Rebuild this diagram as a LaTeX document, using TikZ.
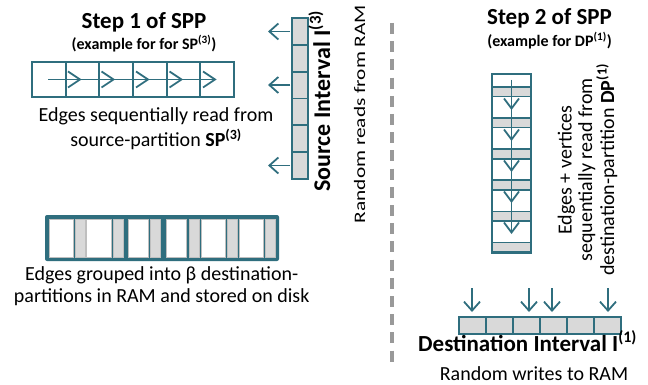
\documentclass[tikz,border=0pt]{standalone}
\usepackage{fontspec}
\usepackage{graphicx}
\setmainfont{Carlito}
\usetikzlibrary{arrows.meta}
\definecolor{teal1}{HTML}{2F6E7E}
\definecolor{cellgray}{HTML}{D9D9D9}
\definecolor{dashgray}{HTML}{999999}
\definecolor{edgegray}{HTML}{BFBFBF}
\begin{document}
\begin{tikzpicture}[x=1pt,y=-1pt,
  cell/.style={draw=teal1, line width=1.8pt},
  arr/.style={draw=teal1, line width=1.8pt, -{Straight Barb[length=9pt,width=16pt,line width=1.8pt]}},
  chev/.style={draw=teal1, line width=1.8pt},
  txt/.style={inner sep=0pt, font=\fontsize{20}{25}\selectfont},
  ttl/.style={inner sep=0pt, font=\bfseries\fontsize{23}{28}\selectfont},
  sub/.style={inner sep=0pt, font=\bfseries\fontsize{16}{19}\selectfont},
  big/.style={inner sep=0pt, font=\bfseries\fontsize{24}{28}\selectfont},
  blk/.style={draw=edgegray, line width=0.5pt},
]
\useasboundingbox (0,0) rectangle (648,385);
\fill[white] (0,0) rectangle (648,385);

% ---------- Step 1 ----------
\node[ttl, anchor=base] (t1) at (144,29) {Step 1 of SPP};
\node[sub, anchor=base] (s1) at (144,50) {(example for for SP\textsuperscript{(3)})};

\foreach \i in {0,...,5}
  \draw[cell, fill=white] ({32+33.67*\i},62) rectangle ({32+33.67*(\i+1)},97);
\draw[chev] (48,79.5) -- (215,79.5);
\foreach \x in {80,113.5,148,181.5,215}
  \draw[chev] (\x-12,71.5) -- (\x,79.5) -- (\x-12,87.5);

\node[txt, align=center] (e1) at (156,129)
  {Edges sequentially read from\\source-partition \textbf{SP\textsuperscript{(3)}}};

% source interval
\foreach \i in {0,...,5}
  \draw[cell, fill=cellgray] (292,{18+26.83*\i}) rectangle (308,{18+26.83*(\i+1)});
\foreach \y in {31.5,85,165.5}
  \draw[arr] (290,\y) -- (268,\y);

\node[big, anchor=base, rotate=90] (si) at (330,101) {Source Interval I\textsuperscript{(3)}};
\node[inner sep=0pt, anchor=base, rotate=90, font=\fontsize{16}{20}\selectfont] (rr) at (365,114)
  {\scalebox{1.33}[1]{Random reads from RAM}};

% grouped partitions box
\fill[teal1, rounded corners=2pt] (45,215) rectangle (279,261);
\foreach \a/\b in {49.3/73.3,86.7/111.7,128.3/148.3,166.7/186.7,201/225,239/263.3}
  \draw[blk, fill=white] (\a,219) rectangle (\b,257);
\foreach \a/\b in {75/85,113.3/123.3,150.7/160.7,189/199,227.3/237.3,265.3/275}
  \draw[blk, fill=cellgray] (\a,219) rectangle (\b,257);

\node[inner sep=0pt, font=\fontsize{20}{21.7}\selectfont, align=center] (e3) at (161.7,286)
  {Edges grouped into β destination-\\partitions in RAM and stored on disk};

% ---------- divider ----------
\draw[dashgray, line width=3.5pt, dash pattern=on 11pt off 7.2pt] (392,23) -- (392,362);

% ---------- Step 2 ----------
\node[ttl, anchor=base] (t2) at (549.5,25) {Step 2 of SPP};
\node[sub, anchor=base] (s2) at (549.5,47) {(example for DP\textsuperscript{(1)})};

\draw[cell, fill=white] (492,74) rectangle (531,253);
\foreach \i in {0,...,5}
  \draw[cell, fill=cellgray] (492,{87+31.1*\i}) rectangle (531,{96.5+31.1*\i});
\draw[chev] (511.5,80) -- (511.5,232.5);
\foreach \y in {108.5,139.5,170.5,201.5,232.5}
  \draw[chev] (504,\y-10) -- (511.5,\y) -- (519,\y-10);

\node[inner sep=0pt, font=\fontsize{20}{20.5}\selectfont, align=center, rotate=90] (e2) at (587.5,170)
  {Edges + vertices\\sequentially read from\\destination-partition \textbf{DP\textsuperscript{(1)}}};

\foreach \x in {472,529,552,608}
  \draw[arr] (\x,288) -- (\x,312);
\foreach \i in {0,...,5}
  \draw[cell, fill=cellgray] ({459+27*\i},317) rectangle ({459+27*(\i+1)},334);

\node[inner sep=0pt, font=\bfseries\fontsize{23}{28}\selectfont, anchor=base west] (di) at (418,351.7) {Destination Interval I\textsuperscript{(1)}};
\node[txt, anchor=base] (rw) at (534,380) {Random writes to RAM};
\end{tikzpicture}
\end{document}
